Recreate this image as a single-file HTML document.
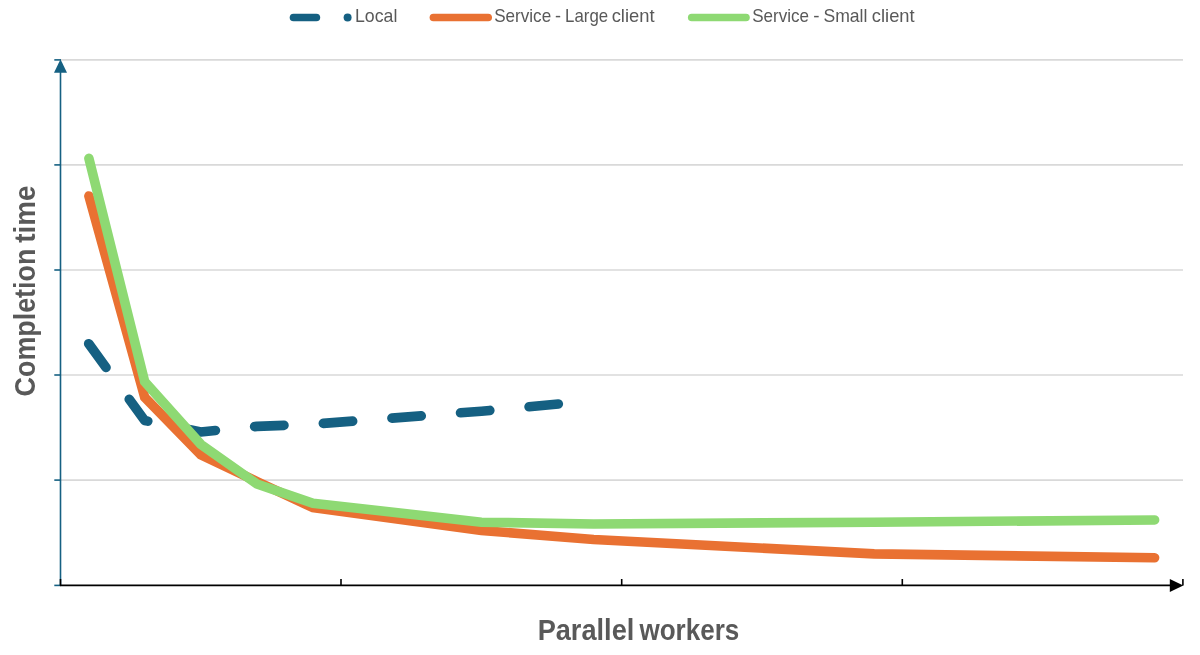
<!DOCTYPE html>
<html>
<head>
<meta charset="utf-8">
<title>Completion time vs parallel workers</title>
<style>
html,body{margin:0;padding:0;background:#fff;}
body{width:1200px;height:655px;overflow:hidden;}
svg{display:block;will-change:transform;}
text{font-family:"Liberation Sans",sans-serif;}
</style>
</head>
<body>
<svg width="1200" height="655" viewBox="0 0 1200 655">
  <rect x="0" y="0" width="1200" height="655" fill="#ffffff"/>

  <!-- gridlines -->
  <g stroke="#D9D9D9" stroke-width="1.6" fill="none">
    <line x1="60.6" y1="59.9" x2="1183" y2="59.9"/>
    <line x1="60.6" y1="164.9" x2="1183" y2="164.9"/>
    <line x1="60.6" y1="270" x2="1183" y2="270"/>
    <line x1="60.6" y1="375" x2="1183" y2="375"/>
    <line x1="60.6" y1="480.1" x2="1183" y2="480.1"/>
  </g>

  <!-- series: Local (dashed) -->
  <polyline fill="none" stroke="#156082" stroke-width="9.6" stroke-linecap="round" stroke-linejoin="round"
    stroke-dasharray="29.4 39.4"
    points="88.7,343.7 144.7,420.5 200.8,432 256.9,426.4 313,424.2 481.4,411.2 593.6,400.7"/>

  <!-- series: Service - Large client -->
  <polyline fill="none" stroke="#E97132" stroke-width="9.6" stroke-linecap="round" stroke-linejoin="miter"
    points="88.9,196 144.7,397.3 200.8,454.7 256.9,481.5 313,507.7 481.4,530.5 593.6,539.5 874.2,553.9 1154.6,557.8"/>

  <!-- series: Service - Small client -->
  <polyline fill="none" stroke="#8ED973" stroke-width="9.6" stroke-linecap="round" stroke-linejoin="miter"
    points="88.9,158.4 144.7,381.7 200.8,444.3 256.9,484 313,503.2 481.4,522.2 593.6,524 874.2,522.2 1154.6,520"/>

  <!-- y axis -->
  <g stroke="#156082" stroke-width="1.6" fill="none">
    <line x1="60.5" y1="585.4" x2="60.5" y2="70"/>
    <line x1="54.3" y1="59.9" x2="61" y2="59.9"/>
    <line x1="54.3" y1="164.9" x2="60.7" y2="164.9"/>
    <line x1="54.3" y1="270" x2="60.7" y2="270"/>
    <line x1="54.3" y1="375" x2="60.7" y2="375"/>
    <line x1="54.3" y1="480.1" x2="60.7" y2="480.1"/>
    <line x1="54.3" y1="585.4" x2="60.7" y2="585.4"/>
  </g>
  <polygon points="60.5,59.3 67,72.7 54,72.7" fill="#156082"/>

  <!-- x axis -->
  <g stroke="#000000" stroke-width="1.6" fill="none">
    <line x1="59.9" y1="585.4" x2="1172" y2="585.4"/>
    <line x1="60.5" y1="579" x2="60.5" y2="585.4"/>
    <line x1="341" y1="579" x2="341" y2="585.4"/>
    <line x1="621.7" y1="579" x2="621.7" y2="585.4"/>
    <line x1="902.3" y1="579" x2="902.3" y2="585.4"/>
    <line x1="1182.9" y1="579" x2="1182.9" y2="585.4"/>
  </g>
  <polygon points="1183.3,585.4 1169.8,579.0 1169.8,591.9" fill="#000000"/>

  <!-- legend -->
  <line x1="293.5" y1="17.5" x2="316.4" y2="17.5" stroke="#156082" stroke-width="7.6" stroke-linecap="round"/>
  <circle cx="347.6" cy="17.5" r="4" fill="#156082"/>
  <text y="22.35" font-size="19.0" fill="#595959"><tspan x="354.99" textLength="42.34" lengthAdjust="spacingAndGlyphs">Local</tspan></text>

  <line x1="433.4" y1="17.5" x2="488.2" y2="17.5" stroke="#E97132" stroke-width="7.6" stroke-linecap="round"/>
  <text y="22.35" font-size="19.0" fill="#595959"><tspan x="494.16" textLength="56.98" lengthAdjust="spacingAndGlyphs">Service</tspan> <tspan x="554.93" textLength="6.00" lengthAdjust="spacingAndGlyphs">-</tspan> <tspan x="565.11" textLength="43.07" lengthAdjust="spacingAndGlyphs">Large</tspan> <tspan x="611.65" textLength="42.91" lengthAdjust="spacingAndGlyphs">client</tspan></text>

  <line x1="691.7" y1="17.5" x2="746" y2="17.5" stroke="#8ED973" stroke-width="7.6" stroke-linecap="round"/>
  <text y="22.35" font-size="19.0" fill="#595959"><tspan x="752.16" textLength="56.87" lengthAdjust="spacingAndGlyphs">Service</tspan> <tspan x="813.13" textLength="6.25" lengthAdjust="spacingAndGlyphs">-</tspan> <tspan x="823.42" textLength="44.05" lengthAdjust="spacingAndGlyphs">Small</tspan> <tspan x="871.85" textLength="42.79" lengthAdjust="spacingAndGlyphs">client</tspan></text>

  <!-- axis titles -->
  <text y="639.7" font-size="29.0" font-weight="bold" fill="#595959"><tspan x="537.64" textLength="96.68" lengthAdjust="spacingAndGlyphs">Parallel</tspan> <tspan x="639.45" textLength="99.82" lengthAdjust="spacingAndGlyphs">workers</tspan></text>
  <text transform="translate(34.6,0) rotate(-90)" y="0" font-size="29.0" font-weight="bold" fill="#595959"><tspan x="-396.45" textLength="147.77" lengthAdjust="spacingAndGlyphs">Completion</tspan> <tspan x="-242.73" textLength="57.09" lengthAdjust="spacingAndGlyphs">time</tspan></text>
</svg>
</body>
</html>
